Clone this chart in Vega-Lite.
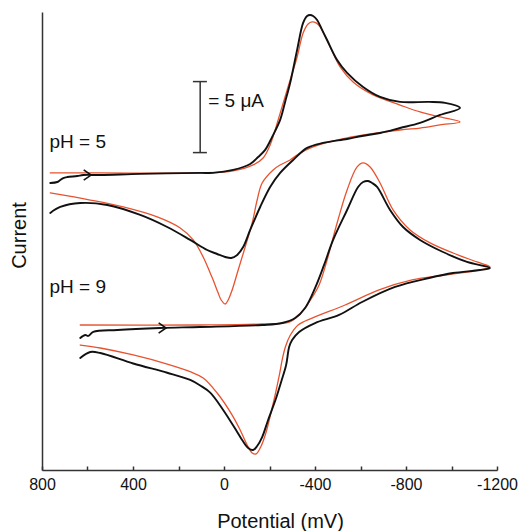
{
  "$schema": "https://vega.github.io/schema/vega-lite/v6.json",
  "width": 455,
  "height": 458,
  "autosize": "none",
  "padding": {"left": 42, "top": 12, "right": 27, "bottom": 61},
  "background": "white",
  "config": {"view": {"stroke": null}, "font": "Liberation Sans"},
  "datasets": {
    "curves": [
      {"series":"pH5 sim","kind":"simulation","i":1,"E":763.6,"I":20.92},
      {"series":"pH5 sim","kind":"simulation","i":2,"E":543.9,"I":20.92},
      {"series":"pH5 sim","kind":"simulation","i":3,"E":104.7,"I":20.92},
      {"series":"pH5 sim","kind":"simulation","i":4,"E":-40.3,"I":21.06},
      {"series":"pH5 sim","kind":"simulation","i":5,"E":-128.2,"I":21.48},
      {"series":"pH5 sim","kind":"simulation","i":6,"E":-172.1,"I":21.97},
      {"series":"pH5 sim","kind":"simulation","i":7,"E":-202.8,"I":22.89},
      {"series":"pH5 sim","kind":"simulation","i":8,"E":-238.0,"I":24.65},
      {"series":"pH5 sim","kind":"simulation","i":9,"E":-277.5,"I":26.76},
      {"series":"pH5 sim","kind":"simulation","i":10,"E":-321.4,"I":29.08},
      {"series":"pH5 sim","kind":"simulation","i":11,"E":-347.8,"I":30.77},
      {"series":"pH5 sim","kind":"simulation","i":12,"E":-369.7,"I":31.41},
      {"series":"pH5 sim","kind":"simulation","i":13,"E":-387.3,"I":31.55},
      {"series":"pH5 sim","kind":"simulation","i":14,"E":-404.9,"I":31.48},
      {"series":"pH5 sim","kind":"simulation","i":15,"E":-422.4,"I":31.20},
      {"series":"pH5 sim","kind":"simulation","i":16,"E":-466.4,"I":29.79},
      {"series":"pH5 sim","kind":"simulation","i":17,"E":-510.3,"I":28.38},
      {"series":"pH5 sim","kind":"simulation","i":18,"E":-567.4,"I":27.32},
      {"series":"pH5 sim","kind":"simulation","i":19,"E":-655.3,"I":26.41},
      {"series":"pH5 sim","kind":"simulation","i":20,"E":-773.9,"I":25.70},
      {"series":"pH5 sim","kind":"simulation","i":21,"E":-861.7,"I":25.21},
      {"series":"pH5 sim","kind":"simulation","i":22,"E":-949.6,"I":24.86},
      {"series":"pH5 sim","kind":"simulation","i":23,"E":-1037.4,"I":24.51},
      {"series":"pH5 sim","kind":"simulation","i":24,"E":-949.6,"I":24.30},
      {"series":"pH5 sim","kind":"simulation","i":25,"E":-861.7,"I":24.08},
      {"series":"pH5 sim","kind":"simulation","i":26,"E":-773.9,"I":23.94},
      {"series":"pH5 sim","kind":"simulation","i":27,"E":-541.1,"I":23.38},
      {"series":"pH5 sim","kind":"simulation","i":28,"E":-391.7,"I":22.75},
      {"series":"pH5 sim","kind":"simulation","i":29,"E":-321.4,"I":22.18},
      {"series":"pH5 sim","kind":"simulation","i":30,"E":-290.7,"I":21.83},
      {"series":"pH5 sim","kind":"simulation","i":31,"E":-246.8,"I":21.48},
      {"series":"pH5 sim","kind":"simulation","i":32,"E":-216.0,"I":21.13},
      {"series":"pH5 sim","kind":"simulation","i":33,"E":-167.7,"I":20.21},
      {"series":"pH5 sim","kind":"simulation","i":34,"E":-145.8,"I":19.01},
      {"series":"pH5 sim","kind":"simulation","i":35,"E":-123.8,"I":17.39},
      {"series":"pH5 sim","kind":"simulation","i":36,"E":-93.0,"I":15.70},
      {"series":"pH5 sim","kind":"simulation","i":37,"E":-62.3,"I":14.08},
      {"series":"pH5 sim","kind":"simulation","i":38,"E":-35.9,"I":12.68},
      {"series":"pH5 sim","kind":"simulation","i":39,"E":-18.3,"I":11.97},
      {"series":"pH5 sim","kind":"simulation","i":40,"E":-5.2,"I":11.69},
      {"series":"pH5 sim","kind":"simulation","i":41,"E":12.4,"I":11.97},
      {"series":"pH5 sim","kind":"simulation","i":42,"E":25.6,"I":12.46},
      {"series":"pH5 sim","kind":"simulation","i":43,"E":47.6,"I":13.38},
      {"series":"pH5 sim","kind":"simulation","i":44,"E":60.7,"I":13.87},
      {"series":"pH5 sim","kind":"simulation","i":45,"E":91.5,"I":15.00},
      {"series":"pH5 sim","kind":"simulation","i":46,"E":135.4,"I":16.20},
      {"series":"pH5 sim","kind":"simulation","i":47,"E":192.5,"I":17.04},
      {"series":"pH5 sim","kind":"simulation","i":48,"E":293.6,"I":17.82},
      {"series":"pH5 sim","kind":"simulation","i":49,"E":442.9,"I":18.52},
      {"series":"pH5 sim","kind":"simulation","i":50,"E":587.9,"I":19.01},
      {"series":"pH5 sim","kind":"simulation","i":51,"E":763.6,"I":19.51},

      {"series":"pH9 sim","kind":"simulation","i":1,"E":631.8,"I":10.21},
      {"series":"pH9 sim","kind":"simulation","i":2,"E":104.7,"I":10.21},
      {"series":"pH9 sim","kind":"simulation","i":3,"E":-167.7,"I":10.28},
      {"series":"pH9 sim","kind":"simulation","i":4,"E":-286.3,"I":10.42},
      {"series":"pH9 sim","kind":"simulation","i":5,"E":-330.2,"I":10.92},
      {"series":"pH9 sim","kind":"simulation","i":6,"E":-374.1,"I":11.83},
      {"series":"pH9 sim","kind":"simulation","i":7,"E":-418.0,"I":13.03},
      {"series":"pH9 sim","kind":"simulation","i":8,"E":-453.2,"I":14.79},
      {"series":"pH9 sim","kind":"simulation","i":9,"E":-497.2,"I":17.39},
      {"series":"pH9 sim","kind":"simulation","i":10,"E":-541.1,"I":19.72},
      {"series":"pH9 sim","kind":"simulation","i":11,"E":-585.0,"I":21.34},
      {"series":"pH9 sim","kind":"simulation","i":12,"E":-611.4,"I":21.62},
      {"series":"pH9 sim","kind":"simulation","i":13,"E":-642.1,"I":21.34},
      {"series":"pH9 sim","kind":"simulation","i":14,"E":-686.0,"I":20.21},
      {"series":"pH9 sim","kind":"simulation","i":15,"E":-743.2,"I":18.31},
      {"series":"pH9 sim","kind":"simulation","i":16,"E":-817.8,"I":16.90},
      {"series":"pH9 sim","kind":"simulation","i":17,"E":-905.7,"I":15.99},
      {"series":"pH9 sim","kind":"simulation","i":18,"E":-1006.6,"I":15.28},
      {"series":"pH9 sim","kind":"simulation","i":19,"E":-1112.1,"I":14.65},
      {"series":"pH9 sim","kind":"simulation","i":20,"E":-1169.2,"I":14.30},
      {"series":"pH9 sim","kind":"simulation","i":21,"E":-1120.9,"I":14.08},
      {"series":"pH9 sim","kind":"simulation","i":22,"E":-971.5,"I":13.73},
      {"series":"pH9 sim","kind":"simulation","i":23,"E":-826.6,"I":13.38},
      {"series":"pH9 sim","kind":"simulation","i":24,"E":-681.6,"I":12.68},
      {"series":"pH9 sim","kind":"simulation","i":25,"E":-532.3,"I":11.62},
      {"series":"pH9 sim","kind":"simulation","i":26,"E":-387.3,"I":10.70},
      {"series":"pH9 sim","kind":"simulation","i":27,"E":-325.8,"I":10.21},
      {"series":"pH9 sim","kind":"simulation","i":28,"E":-290.0,"I":9.45},
      {"series":"pH9 sim","kind":"simulation","i":29,"E":-270.5,"I":8.70},
      {"series":"pH9 sim","kind":"simulation","i":30,"E":-257.5,"I":7.89},
      {"series":"pH9 sim","kind":"simulation","i":31,"E":-243.4,"I":6.69},
      {"series":"pH9 sim","kind":"simulation","i":32,"E":-224.8,"I":5.28},
      {"series":"pH9 sim","kind":"simulation","i":33,"E":-207.2,"I":4.08},
      {"series":"pH9 sim","kind":"simulation","i":34,"E":-185.3,"I":2.68},
      {"series":"pH9 sim","kind":"simulation","i":35,"E":-163.3,"I":1.69},
      {"series":"pH9 sim","kind":"simulation","i":36,"E":-141.3,"I":1.13},
      {"series":"pH9 sim","kind":"simulation","i":37,"E":-123.8,"I":1.20},
      {"series":"pH9 sim","kind":"simulation","i":38,"E":-101.8,"I":1.76},
      {"series":"pH9 sim","kind":"simulation","i":39,"E":-71.0,"I":2.82},
      {"series":"pH9 sim","kind":"simulation","i":40,"E":-35.9,"I":3.87},
      {"series":"pH9 sim","kind":"simulation","i":41,"E":30.0,"I":5.42},
      {"series":"pH9 sim","kind":"simulation","i":42,"E":91.5,"I":6.48},
      {"series":"pH9 sim","kind":"simulation","i":43,"E":148.6,"I":6.92},
      {"series":"pH9 sim","kind":"simulation","i":44,"E":249.6,"I":7.46},
      {"series":"pH9 sim","kind":"simulation","i":45,"E":399.0,"I":8.10},
      {"series":"pH9 sim","kind":"simulation","i":46,"E":543.9,"I":8.59},
      {"series":"pH9 sim","kind":"simulation","i":47,"E":631.8,"I":8.80},

      {"series":"pH5 exp","kind":"experiment","i":1,"E":763.6,"I":20.21},
      {"series":"pH5 exp","kind":"experiment","i":2,"E":732.8,"I":20.28},
      {"series":"pH5 exp","kind":"experiment","i":3,"E":719.6,"I":20.42},
      {"series":"pH5 exp","kind":"experiment","i":4,"E":706.5,"I":20.56},
      {"series":"pH5 exp","kind":"experiment","i":5,"E":688.9,"I":20.63},
      {"series":"pH5 exp","kind":"experiment","i":6,"E":645.0,"I":20.70},
      {"series":"pH5 exp","kind":"experiment","i":7,"E":618.6,"I":20.77},
      {"series":"pH5 exp","kind":"experiment","i":8,"E":543.9,"I":20.77},
      {"series":"pH5 exp","kind":"experiment","i":9,"E":368.2,"I":20.85},
      {"series":"pH5 exp","kind":"experiment","i":10,"E":104.7,"I":20.92},
      {"series":"pH5 exp","kind":"experiment","i":11,"E":47.6,"I":20.92},
      {"series":"pH5 exp","kind":"experiment","i":12,"E":-40.3,"I":21.13},
      {"series":"pH5 exp","kind":"experiment","i":13,"E":-115.0,"I":21.55},
      {"series":"pH5 exp","kind":"experiment","i":14,"E":-150.1,"I":22.04},
      {"series":"pH5 exp","kind":"experiment","i":15,"E":-180.9,"I":22.54},
      {"series":"pH5 exp","kind":"experiment","i":16,"E":-211.6,"I":23.45},
      {"series":"pH5 exp","kind":"experiment","i":17,"E":-246.8,"I":24.65},
      {"series":"pH5 exp","kind":"experiment","i":18,"E":-268.7,"I":25.92},
      {"series":"pH5 exp","kind":"experiment","i":19,"E":-290.7,"I":27.25},
      {"series":"pH5 exp","kind":"experiment","i":20,"E":-321.4,"I":29.58},
      {"series":"pH5 exp","kind":"experiment","i":21,"E":-347.8,"I":31.48},
      {"series":"pH5 exp","kind":"experiment","i":22,"E":-365.4,"I":31.97},
      {"series":"pH5 exp","kind":"experiment","i":23,"E":-378.5,"I":32.04},
      {"series":"pH5 exp","kind":"experiment","i":24,"E":-391.7,"I":31.97},
      {"series":"pH5 exp","kind":"experiment","i":25,"E":-409.3,"I":31.69},
      {"series":"pH5 exp","kind":"experiment","i":26,"E":-431.2,"I":30.99},
      {"series":"pH5 exp","kind":"experiment","i":27,"E":-453.2,"I":30.28},
      {"series":"pH5 exp","kind":"experiment","i":28,"E":-497.2,"I":28.87},
      {"series":"pH5 exp","kind":"experiment","i":29,"E":-541.1,"I":27.96},
      {"series":"pH5 exp","kind":"experiment","i":30,"E":-611.4,"I":26.97},
      {"series":"pH5 exp","kind":"experiment","i":31,"E":-686.0,"I":26.27},
      {"series":"pH5 exp","kind":"experiment","i":32,"E":-773.9,"I":25.92},
      {"series":"pH5 exp","kind":"experiment","i":33,"E":-901.3,"I":25.92},
      {"series":"pH5 exp","kind":"experiment","i":34,"E":-971.5,"I":25.85},
      {"series":"pH5 exp","kind":"experiment","i":35,"E":-1037.4,"I":25.49},
      {"series":"pH5 exp","kind":"experiment","i":36,"E":-949.6,"I":25.00},
      {"series":"pH5 exp","kind":"experiment","i":37,"E":-861.7,"I":24.44},
      {"series":"pH5 exp","kind":"experiment","i":38,"E":-773.9,"I":24.08},
      {"series":"pH5 exp","kind":"experiment","i":39,"E":-686.0,"I":23.73},
      {"series":"pH5 exp","kind":"experiment","i":40,"E":-607.0,"I":23.52},
      {"series":"pH5 exp","kind":"experiment","i":41,"E":-541.1,"I":23.31},
      {"series":"pH5 exp","kind":"experiment","i":42,"E":-435.6,"I":23.03},
      {"series":"pH5 exp","kind":"experiment","i":43,"E":-365.4,"I":22.68},
      {"series":"pH5 exp","kind":"experiment","i":44,"E":-303.9,"I":21.83},
      {"series":"pH5 exp","kind":"experiment","i":45,"E":-246.8,"I":20.92},
      {"series":"pH5 exp","kind":"experiment","i":46,"E":-202.8,"I":19.93},
      {"series":"pH5 exp","kind":"experiment","i":47,"E":-159.0,"I":18.52},
      {"series":"pH5 exp","kind":"experiment","i":48,"E":-115.0,"I":16.90},
      {"series":"pH5 exp","kind":"experiment","i":49,"E":-84.2,"I":15.70},
      {"series":"pH5 exp","kind":"experiment","i":50,"E":-57.9,"I":15.14},
      {"series":"pH5 exp","kind":"experiment","i":51,"E":-31.5,"I":14.93},
      {"series":"pH5 exp","kind":"experiment","i":52,"E":-5.2,"I":15.00},
      {"series":"pH5 exp","kind":"experiment","i":53,"E":30.0,"I":15.21},
      {"series":"pH5 exp","kind":"experiment","i":54,"E":73.9,"I":15.49},
      {"series":"pH5 exp","kind":"experiment","i":55,"E":148.6,"I":16.20},
      {"series":"pH5 exp","kind":"experiment","i":56,"E":249.6,"I":17.11},
      {"series":"pH5 exp","kind":"experiment","i":57,"E":368.2,"I":17.96},
      {"series":"pH5 exp","kind":"experiment","i":58,"E":513.0,"I":18.66},
      {"series":"pH5 exp","kind":"experiment","i":59,"E":631.8,"I":18.80},
      {"series":"pH5 exp","kind":"experiment","i":60,"E":719.6,"I":18.52},
      {"series":"pH5 exp","kind":"experiment","i":61,"E":763.6,"I":18.10},

      {"series":"pH9 exp","kind":"experiment","i":1,"E":631.8,"I":9.30},
      {"series":"pH9 exp","kind":"experiment","i":2,"E":609.8,"I":9.51},
      {"series":"pH9 exp","kind":"experiment","i":3,"E":596.6,"I":9.44},
      {"series":"pH9 exp","kind":"experiment","i":4,"E":574.7,"I":9.72},
      {"series":"pH9 exp","kind":"experiment","i":5,"E":469.3,"I":9.86},
      {"series":"pH9 exp","kind":"experiment","i":6,"E":280.4,"I":10.00},
      {"series":"pH9 exp","kind":"experiment","i":7,"E":104.7,"I":10.07},
      {"series":"pH9 exp","kind":"experiment","i":8,"E":-167.7,"I":10.21},
      {"series":"pH9 exp","kind":"experiment","i":9,"E":-255.5,"I":10.35},
      {"series":"pH9 exp","kind":"experiment","i":10,"E":-312.7,"I":10.70},
      {"series":"pH9 exp","kind":"experiment","i":11,"E":-356.6,"I":11.41},
      {"series":"pH9 exp","kind":"experiment","i":12,"E":-400.5,"I":12.82},
      {"series":"pH9 exp","kind":"experiment","i":13,"E":-440.0,"I":14.44},
      {"series":"pH9 exp","kind":"experiment","i":14,"E":-479.6,"I":16.20},
      {"series":"pH9 exp","kind":"experiment","i":15,"E":-541.1,"I":18.31},
      {"series":"pH9 exp","kind":"experiment","i":16,"E":-589.4,"I":19.93},
      {"series":"pH9 exp","kind":"experiment","i":17,"E":-611.4,"I":20.28},
      {"series":"pH9 exp","kind":"experiment","i":18,"E":-633.3,"I":20.35},
      {"series":"pH9 exp","kind":"experiment","i":19,"E":-650.9,"I":20.21},
      {"series":"pH9 exp","kind":"experiment","i":20,"E":-672.9,"I":19.93},
      {"series":"pH9 exp","kind":"experiment","i":21,"E":-730.0,"I":18.31},
      {"series":"pH9 exp","kind":"experiment","i":22,"E":-787.1,"I":17.11},
      {"series":"pH9 exp","kind":"experiment","i":23,"E":-861.7,"I":16.20},
      {"series":"pH9 exp","kind":"experiment","i":24,"E":-962.7,"I":15.35},
      {"series":"pH9 exp","kind":"experiment","i":25,"E":-1068.2,"I":14.65},
      {"series":"pH9 exp","kind":"experiment","i":26,"E":-1169.2,"I":14.23},
      {"series":"pH9 exp","kind":"experiment","i":27,"E":-1125.3,"I":14.08},
      {"series":"pH9 exp","kind":"experiment","i":28,"E":-1006.6,"I":13.87},
      {"series":"pH9 exp","kind":"experiment","i":29,"E":-901.3,"I":13.52},
      {"series":"pH9 exp","kind":"experiment","i":30,"E":-751.9,"I":12.89},
      {"series":"pH9 exp","kind":"experiment","i":31,"E":-607.0,"I":11.83},
      {"series":"pH9 exp","kind":"experiment","i":32,"E":-506.0,"I":10.92},
      {"series":"pH9 exp","kind":"experiment","i":33,"E":-400.5,"I":10.35},
      {"series":"pH9 exp","kind":"experiment","i":34,"E":-330.2,"I":9.72},
      {"series":"pH9 exp","kind":"experiment","i":35,"E":-299.5,"I":9.15},
      {"series":"pH9 exp","kind":"experiment","i":36,"E":-286.3,"I":8.66},
      {"series":"pH9 exp","kind":"experiment","i":37,"E":-273.1,"I":7.39},
      {"series":"pH9 exp","kind":"experiment","i":38,"E":-251.1,"I":6.20},
      {"series":"pH9 exp","kind":"experiment","i":39,"E":-229.2,"I":5.07},
      {"series":"pH9 exp","kind":"experiment","i":40,"E":-194.0,"I":3.52},
      {"series":"pH9 exp","kind":"experiment","i":41,"E":-167.7,"I":2.32},
      {"series":"pH9 exp","kind":"experiment","i":42,"E":-145.8,"I":1.69},
      {"series":"pH9 exp","kind":"experiment","i":43,"E":-128.2,"I":1.41},
      {"series":"pH9 exp","kind":"experiment","i":44,"E":-106.2,"I":1.55},
      {"series":"pH9 exp","kind":"experiment","i":45,"E":-79.8,"I":2.11},
      {"series":"pH9 exp","kind":"experiment","i":46,"E":-57.9,"I":2.68},
      {"series":"pH9 exp","kind":"experiment","i":47,"E":3.6,"I":4.23},
      {"series":"pH9 exp","kind":"experiment","i":48,"E":60.7,"I":5.45},
      {"series":"pH9 exp","kind":"experiment","i":49,"E":104.7,"I":5.95},
      {"series":"pH9 exp","kind":"experiment","i":50,"E":148.6,"I":6.34},
      {"series":"pH9 exp","kind":"experiment","i":51,"E":249.6,"I":6.85},
      {"series":"pH9 exp","kind":"experiment","i":52,"E":399.0,"I":7.50},
      {"series":"pH9 exp","kind":"experiment","i":53,"E":543.9,"I":8.24},
      {"series":"pH9 exp","kind":"experiment","i":54,"E":587.9,"I":8.31},
      {"series":"pH9 exp","kind":"experiment","i":55,"E":631.8,"I":7.89}
    ],
    "arrows": [
      {"E": 596.6, "I": 20.77},
      {"E": 267.2, "I": 10.0}
    ],
    "scalebar": [
      {"E": 104.7, "E2": 104.7, "I": 22.35, "I2": 27.35},
      {"E": 136.7, "E2": 75.2, "I": 27.35, "I2": 27.35},
      {"E": 136.7, "E2": 75.2, "I": 22.35, "I2": 22.35}
    ],
    "labels": [
      {"E": 69.5, "I": 25.56, "text": "= 5 μA"},
      {"E": 767, "I": 22.68, "text": "pH = 5"},
      {"E": 767, "I": 12.46, "text": "pH = 9"}
    ]
  },
  "layer": [
    {
      "data": {"name": "curves"},
      "mark": {"type": "line", "strokeJoin": "round", "strokeCap": "round", "interpolate": "catmull-rom"},
      "encoding": {
        "x": {
          "field": "E", "type": "quantitative",
          "scale": {"domain": [800, -1200], "nice": false, "zero": false},
          "axis": {
            "title": "Potential (mV)",
            "values": [800, 600, 400, 200, 0, -200, -400, -600, -800, -1000, -1200],
            "labelExpr": "datum.value % 400 == 0 ? '' + datum.value : ''",
            "grid": false, "tickSize": -4, "labelPadding": 10,
            "domainColor": "#333333", "tickColor": "#333333", "domainWidth": 1.5, "tickWidth": 1.5,
            "labelFontSize": 16, "labelColor": "#111111", "labelFlush": false,
            "titleFontSize": 20, "titleFontWeight": "normal", "titleColor": "#111111",
            "titleX": 238, "titleY": 57, "titleBaseline": "alphabetic"
          }
        },
        "y": {
          "field": "I", "type": "quantitative",
          "scale": {"domain": [0, 32.25], "nice": false, "zero": false},
          "axis": {
            "title": "Current", "ticks": false, "labels": false, "grid": false,
            "domainColor": "#333333", "domainWidth": 1.5,
            "titleFontSize": 20, "titleFontWeight": "normal", "titleColor": "#111111",
            "titleX": -17, "titleY": 223, "titleBaseline": "alphabetic", "titleAngle": -90, "titleAlign": "center"
          }
        },
        "detail": {"field": "series"},
        "color": {"field": "kind", "type": "nominal", "scale": {"domain": ["experiment", "simulation"], "range": ["#111111", "#e8532f"]}, "legend": null},
        "strokeWidth": {"field": "kind", "type": "nominal", "scale": {"domain": ["experiment", "simulation"], "range": [1.9, 1.3]}, "legend": null},
        "order": {"field": "i", "type": "quantitative"}
      }
    },
    {
      "data": {"name": "scalebar"},
      "mark": {"type": "rule", "color": "#333333", "strokeWidth": 1.5},
      "encoding": {
        "x": {"field": "E", "type": "quantitative"},
        "x2": {"field": "E2"},
        "y": {"field": "I", "type": "quantitative"},
        "y2": {"field": "I2"}
      }
    },
    {
      "data": {"name": "arrows"},
      "mark": {"type": "point", "shape": "M -0.8 -0.9 L 0.5 0 L -0.8 0.9", "filled": false, "stroke": "#111111", "strokeWidth": 1.6, "size": 130, "opacity": 1},
      "encoding": {
        "x": {"field": "E", "type": "quantitative"},
        "y": {"field": "I", "type": "quantitative"}
      }
    },
    {
      "data": {"name": "labels"},
      "mark": {"type": "text", "align": "left", "baseline": "alphabetic", "fontSize": 19, "color": "#111111", "font": "Liberation Sans"},
      "encoding": {
        "x": {"field": "E", "type": "quantitative"},
        "y": {"field": "I", "type": "quantitative"},
        "text": {"field": "text"}
      }
    }
  ]
}
